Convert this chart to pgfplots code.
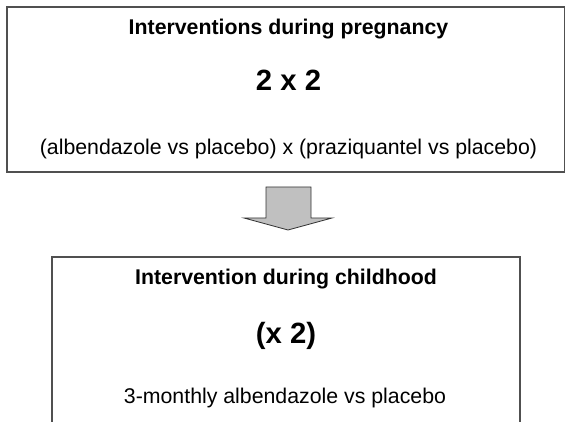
\documentclass[border=0pt]{standalone}
\usepackage{pgfplots}
\pgfplotsset{compat=1.18}
\usepackage{fontspec}
\setmainfont{Liberation Sans}
\definecolor{boxline}{HTML}{505050}
\definecolor{arrowfill}{HTML}{C0C0C0}
\begin{document}
\begin{tikzpicture}
\useasboundingbox (0,0) rectangle (565pt,422pt);
\clip (0,0) rectangle (565pt,422pt);
\begin{axis}[
  scale only axis, width=565pt, height=422pt,
  xmin=0, xmax=565, ymin=0, ymax=422, y dir=reverse,
  hide axis, clip=false,
]
% top box (right edge at the picture's edge)
\addplot[boxline, line width=1.3pt] coordinates {(570,7) (7,7) (7,172) (570,172)};
\addplot[boxline, line width=1.3pt] coordinates {(564.5,7) (564.5,172)};
% bottom box (open at the bottom)
\addplot[boxline, line width=1.3pt] coordinates {(52,430) (52,257) (520,257) (520,430)};
% arrow
\addplot[draw=black!80, fill=arrowfill, line width=0.8pt] coordinates {
 (266,187) (311,187) (311,218) (332,218) (288,230) (244,218) (266,218) (266,187)} -- cycle;
\node[anchor=base, inner sep=0pt] at (axis cs:288.5,35) {\fontsize{21.3}{25}\selectfont\bfseries Interventions during pregnancy};
\node[anchor=base, inner sep=0pt] at (axis cs:288.5,91) {\fontsize{29.3}{34}\selectfont\bfseries 2 x 2};
\node[anchor=base, inner sep=0pt] at (axis cs:288.5,155) {\fontsize{21.3}{25}\selectfont (albendazole vs placebo) x (praziquantel vs placebo)};
\node[anchor=base, inner sep=0pt] at (axis cs:286,284) {\fontsize{21.3}{25}\selectfont\bfseries Intervention during childhood};
\node[anchor=base, inner sep=0pt] at (axis cs:286,343) {\fontsize{29.3}{34}\selectfont\bfseries (x 2)};
\node[anchor=base, inner sep=0pt] at (axis cs:285,403) {\fontsize{21.3}{25}\selectfont 3-monthly albendazole vs placebo};
\end{axis}
\end{tikzpicture}
\end{document}
